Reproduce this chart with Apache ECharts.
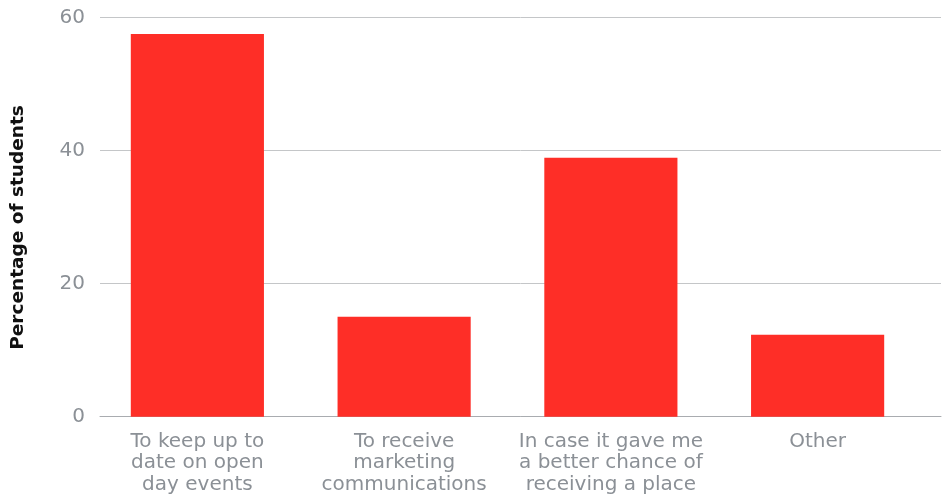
<!DOCTYPE html>
<html>
<head>
<meta charset="utf-8">
<script src="https://cdn.jsdelivr.net/npm/echarts@6/dist/echarts.min.js"></script>
<style>
  html, body { margin: 0; padding: 0; background: #fff; }
  #chart { width: 947px; height: 499px; }
</style>
</head>
<body>
<div id="chart"></div>
<script>
// Reasons for signing up, share of students (%)
const categories = [
  'To keep up to\ndate on open\nday events',
  'To receive\nmarketing\ncommunications',
  'In case it gave me\na better chance of\nreceiving a place',
  'Other'
];
const percentages = [57.5, 15, 38.9, 12.3];
const yTicks = [0, 20, 40, 60];

const gray = '#8b9096';
const font = '"DejaVu Sans", Inter, sans-serif';

const chart = echarts.init(document.getElementById('chart'), null, { renderer: 'canvas' });
chart.setOption({
  animation: false,
  backgroundColor: '#ffffff',
  grid: [
    // value scale and gridlines
    { left: 100, right: 6, top: 17.3, bottom: 82.3 },
    // category bands and bars
    { left: 94, right: 26, top: 17.3, bottom: 82.3 }
  ],
  xAxis: [
    {
      gridIndex: 0, type: 'category', data: categories,
      axisLine: { show: true, lineStyle: { color: '#a9acb0', width: 1 } },
      axisTick: { show: false }, axisLabel: { show: false }, splitLine: { show: false }
    },
    {
      gridIndex: 1, type: 'category', data: categories,
      axisLine: { show: false }, axisTick: { show: false },
      axisLabel: {
        color: gray, fontFamily: font, fontSize: 20, lineHeight: 21.5,
        margin: 14, interval: 0, align: 'center'
      }
    }
  ],
  yAxis: [
    {
      gridIndex: 0, type: 'value', min: yTicks[0], max: yTicks[yTicks.length - 1], interval: 20,
      name: 'Percentage of students', nameLocation: 'middle', nameGap: 72, nameRotate: 90,
      nameTextStyle: {
        color: '#111', fontFamily: '"DejaVu Sans", sans-serif', fontWeight: 'bold', fontSize: 18.5,
        padding: [0, 21, 0, 0]
      },
      axisLine: { show: false }, axisTick: { show: false },
      axisLabel: { color: gray, fontFamily: font, fontSize: 20, margin: 15, padding: [4, 0, 0, 0] },
      splitLine: { show: true, lineStyle: { color: '#c4c6c8', width: 1 } }
    },
    {
      gridIndex: 1, type: 'value', min: yTicks[0], max: yTicks[yTicks.length - 1], interval: 20,
      show: false, splitLine: { show: false }
    }
  ],
  series: [
    {
      type: 'bar', xAxisIndex: 1, yAxisIndex: 1,
      data: percentages, barWidth: '64.4%',
      itemStyle: { color: '#fe2e27' }
    }
  ]
});
</script>
</body>
</html>
